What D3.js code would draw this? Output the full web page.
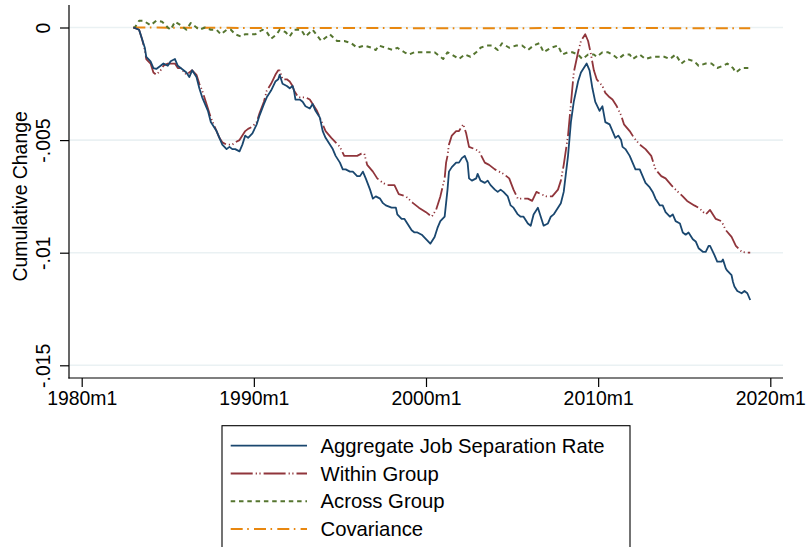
<!DOCTYPE html>
<html>
<head>
<meta charset="utf-8">
<script src="https://cdn.jsdelivr.net/npm/d3@7"></script>
<style>
  html, body { margin: 0; padding: 0; background: #ffffff; }
  svg { display: block; }
  text { font-family: Arial, "Liberation Sans", sans-serif; fill: #000; }
</style>
</head>
<body>
<svg id="chart" width="808" height="547"></svg>
<script>
// ---------------- DATA ----------------
const xTickMonths = ["1980m1", "1990m1", "2000m1", "2010m1", "2020m1"];
const yTickValues = [0, -0.005, -0.01, -0.015];
const yTickLabels = ["0", "-.005", "-.01", "-.015"];
const yTitle = "Cumulative Change";
const seriesNames = ["Aggregate Job Separation Rate", "Within Group", "Across Group", "Covariance"];

const aggregateRate = [
["1983m1",0],["1983m5",-0.0001],["1983m7",-0.0005],["1983m9",-0.0009],["1983m10",-0.0013],["1984m1",-0.0015],["1984m3",-0.0018],["1984m5",-0.00184],["1984m8",-0.0017],["1984m10",-0.0016],["1985m1",-0.0017],["1985m3",-0.0015],["1985m6",-0.0014],["1985m8",-0.0017],["1985m10",-0.0018],["1986m2",-0.002],["1986m4",-0.0022],["1986m6",-0.0019],["1986m9",-0.0022],["1986m11",-0.0027],["1987m1",-0.0031],["1987m5",-0.0037],["1987m7",-0.0042],["1987m11",-0.0046],["1988m1",-0.0049],["1988m3",-0.0052],["1988m6",-0.0054],["1988m8",-0.0053],["1988m10",-0.0054],["1988m12",-0.0054],["1989m3",-0.0055],["1989m5",-0.0052],["1989m7",-0.0048],["1989m9",-0.0049],["1989m12",-0.0047],["1990m3",-0.0043],["1990m5",-0.0039],["1990m8",-0.0034],["1990m10",-0.0031],["1991m1",-0.0028],["1991m4",-0.0024],["1991m6",-0.0023],["1991m7",-0.0021],["1991m9",-0.0025],["1991m12",-0.0026],["1992m2",-0.0027],["1992m4",-0.0026],["1992m5",-0.0028],["1992m6",-0.0032],["1992m9",-0.0032],["1992m11",-0.0033],["1993m1",-0.0035],["1993m4",-0.0036],["1993m6",-0.0034],["1993m8",-0.0037],["1993m11",-0.004],["1994m1",-0.0046],["1994m3",-0.0049],["1994m6",-0.0052],["1994m8",-0.0054],["1994m10",-0.0057],["1995m1",-0.006],["1995m3",-0.0063],["1995m5",-0.0063],["1995m8",-0.0064],["1995m10",-0.0064],["1996m1",-0.0066],["1996m3",-0.0066],["1996m5",-0.0064],["1996m7",-0.0067],["1996m10",-0.0072],["1996m12",-0.0076],["1997m2",-0.0075],["1997m5",-0.0076],["1997m7",-0.0078],["1997m9",-0.0079],["1998m1",-0.008],["1998m4",-0.008],["1998m5",-0.0083],["1998m8",-0.0085],["1998m10",-0.0085],["1998m12",-0.0087],["1999m3",-0.009],["1999m5",-0.0091],["1999m7",-0.0091],["1999m10",-0.0092],["2000m1",-0.0094],["2000m4",-0.0096],["2000m7",-0.0093],["2000m9",-0.0089],["2000m11",-0.0086],["2001m2",-0.0084],["2001m3",-0.0078],["2001m4",-0.0072],["2001m5",-0.0064],["2001m7",-0.0062],["2001m10",-0.006],["2001m12",-0.006],["2002m2",-0.0058],["2002m4",-0.0057],["2002m6",-0.006],["2002m7",-0.0067],["2002m9",-0.0068],["2002m12",-0.0067],["2003m1",-0.0065],["2003m3",-0.0068],["2003m6",-0.0069],["2003m8",-0.0068],["2003m10",-0.007],["2004m1",-0.0072],["2004m3",-0.0073],["2004m5",-0.0072],["2004m7",-0.0073],["2004m10",-0.0075],["2004m12",-0.0079],["2005m2",-0.008],["2005m5",-0.0083],["2005m7",-0.0084],["2005m9",-0.0084],["2005m12",-0.0087],["2006m2",-0.0088],["2006m4",-0.0083],["2006m7",-0.008],["2006m9",-0.0084],["2006m11",-0.0088],["2007m2",-0.0087],["2007m4",-0.0084],["2007m6",-0.0083],["2007m9",-0.008],["2007m11",-0.0078],["2008m1",-0.0073],["2008m4",-0.0057],["2008m6",-0.0042],["2008m8",-0.0033],["2008m11",-0.0024],["2009m1",-0.002],["2009m3",-0.0018],["2009m5",-0.0016],["2009m7",-0.0019],["2009m9",-0.0027],["2009m11",-0.0033],["2010m2",-0.0037],["2010m4",-0.0035],["2010m6",-0.0042],["2010m9",-0.0043],["2010m11",-0.0046],["2011m1",-0.0049],["2011m3",-0.0048],["2011m5",-0.005],["2011m6",-0.0053],["2011m8",-0.0054],["2011m11",-0.0057],["2012m1",-0.006],["2012m3",-0.0063],["2012m6",-0.0063],["2012m8",-0.0066],["2012m10",-0.0069],["2013m1",-0.0071],["2013m3",-0.0073],["2013m5",-0.0076],["2013m8",-0.0079],["2013m10",-0.0079],["2013m12",-0.0082],["2014m3",-0.0084],["2014m5",-0.0083],["2014m7",-0.0086],["2014m10",-0.0087],["2014m12",-0.0091],["2015m2",-0.0092],["2015m4",-0.0091],["2015m7",-0.0094],["2015m9",-0.0095],["2015m11",-0.0098],["2016m2",-0.00996],["2016m4",-0.00996],["2016m6",-0.0097],["2016m7",-0.0097],["2016m10",-0.0101],["2016m12",-0.0104],["2017m3",-0.0104],["2017m4",-0.0103],["2017m6",-0.0107],["2017m7",-0.0108],["2017m10",-0.011],["2017m11",-0.0113],["2017m12",-0.0115],["2018m2",-0.0117],["2018m5",-0.0118],["2018m7",-0.0117],["2018m9",-0.0118],["2018m11",-0.0121]
];

const withinGroup = [
["1983m1",0],["1983m5",-0.0001],["1983m7",-0.0005],["1983m9",-0.001],["1983m10",-0.0014],["1984m1",-0.0016],["1984m3",-0.002],["1984m5",-0.0021],["1984m8",-0.0019],["1984m10",-0.0017],["1985m1",-0.0016],["1985m3",-0.0016],["1985m6",-0.0016],["1985m8",-0.0018],["1985m10",-0.0018],["1986m2",-0.0021],["1986m4",-0.002],["1986m6",-0.0019],["1986m9",-0.0021],["1986m11",-0.0025],["1987m1",-0.0028],["1987m4",-0.0034],["1987m7",-0.004],["1987m11",-0.0046],["1988m1",-0.0049],["1988m3",-0.0051],["1988m6",-0.0052],["1988m8",-0.0052],["1988m10",-0.0052],["1988m12",-0.0051],["1989m3",-0.005],["1989m5",-0.0048],["1989m7",-0.0046],["1989m9",-0.0045],["1989m12",-0.0044],["1990m3",-0.0042],["1990m5",-0.0038],["1990m8",-0.0033],["1990m10",-0.0028],["1991m1",-0.0025],["1991m4",-0.0021],["1991m6",-0.0019],["1991m7",-0.0019],["1991m9",-0.0023],["1991m12",-0.0023],["1992m2",-0.0024],["1992m4",-0.0026],["1992m5",-0.0028],["1992m8",-0.0031],["1992m10",-0.0031],["1993m1",-0.0031],["1993m4",-0.0032],["1993m6",-0.0034],["1993m9",-0.0037],["1994m1",-0.0043],["1994m3",-0.0046],["1994m7",-0.0049],["1994m10",-0.0051],["1995m1",-0.0053],["1995m4",-0.0057],["1995m8",-0.0057],["1996m1",-0.0057],["1996m4",-0.0056],["1996m6",-0.0056],["1996m8",-0.0061],["1996m12",-0.0064],["1997m3",-0.0067],["1997m7",-0.0069],["1997m10",-0.007],["1998m3",-0.007],["1998m6",-0.0074],["1998m11",-0.0075],["1999m4",-0.0078],["1999m8",-0.008],["2000m1",-0.0082],["2000m5",-0.0084],["2000m8",-0.0081],["2000m10",-0.0077],["2000m11",-0.0075],["2001m2",-0.0067],["2001m3",-0.006],["2001m4",-0.0057],["2001m5",-0.0052],["2001m7",-0.0048],["2001m10",-0.0046],["2001m12",-0.0046],["2002m3",-0.0043],["2002m5",-0.0047],["2002m7",-0.0053],["2002m11",-0.0054],["2003m2",-0.0055],["2003m6",-0.006],["2003m9",-0.0061],["2004m1",-0.0063],["2004m4",-0.0064],["2004m7",-0.0065],["2004m11",-0.0067],["2005m2",-0.0072],["2005m5",-0.0076],["2005m8",-0.0076],["2005m12",-0.0076],["2006m3",-0.0077],["2006m6",-0.0073],["2006m9",-0.0074],["2007m1",-0.0075],["2007m5",-0.0075],["2007m9",-0.0072],["2007m11",-0.0068],["2008m1",-0.0061],["2008m4",-0.0048],["2008m6",-0.0034],["2008m8",-0.002],["2008m11",-0.0011],["2009m1",-0.0006],["2009m3",-0.0004],["2009m4",-0.0003],["2009m6",-0.0006],["2009m8",-0.0012],["2009m10",-0.0019],["2009m12",-0.0023],["2010m4",-0.0026],["2010m6",-0.0029],["2010m9",-0.0031],["2010m11",-0.0032],["2011m2",-0.0035],["2011m5",-0.0039],["2011m7",-0.0043],["2011m11",-0.0046],["2012m2",-0.0049],["2012m6",-0.0052],["2012m10",-0.0054],["2013m2",-0.0057],["2013m5",-0.0063],["2013m9",-0.0066],["2013m12",-0.0067],["2014m4",-0.007],["2014m7",-0.0072],["2014m12",-0.0075],["2015m3",-0.0077],["2015m8",-0.0079],["2015m11",-0.008],["2016m4",-0.0083],["2016m7",-0.0081],["2016m11",-0.0085],["2017m3",-0.0086],["2017m6",-0.009],["2017m10",-0.0093],["2018m1",-0.0097],["2018m5",-0.00996],["2018m8",-0.01],["2018m11",-0.01]
];

const acrossGroup = [
["1983m1",0],["1983m2",0],["1983m5",0.0003],["1983m8",0.0003],["1984m1",0.0001],["1984m5",0.0003],["1984m9",0.00026],["1985m1",0],["1985m3",-0.0001],["1985m6",0.00026],["1985m10",0.0001],["1986m2",-0.0001],["1986m5",0.0002],["1986m9",0],["1986m11",-0.0001],["1987m3",0],["1987m7",-0.0001],["1987m11",-0.0001],["1988m2",-0.0003],["1988m6",-0.0001],["1988m9",-0.0001],["1988m12",-0.0003],["1989m4",-0.0004],["1989m7",-0.0003],["1989m11",-0.0003],["1990m2",-0.0003],["1990m7",-0.0001],["1990m10",-0.0002],["1991m1",-0.0005],["1991m5",-0.0003],["1991m7",-0.0001],["1991m11",-0.0002],["1992m2",-0.0004],["1992m5",-0.0001],["1992m10",-0.0001],["1993m1",-0.0004],["1993m6",-0.0001],["1993m12",-0.0006],["1994m6",-0.0003],["1994m11",-0.0006],["1995m4",-0.0006],["1995m9",-0.0007],["1996m1",-0.0009],["1996m6",-0.0008],["1996m11",-0.0009],["1997m2",-0.001],["1997m4",-0.0008],["1997m9",-0.0009],["1998m2",-0.001],["1998m5",-0.0009],["1998m10",-0.0011],["1999m1",-0.0012],["1999m5",-0.0011],["1999m10",-0.0011],["2000m2",-0.0011],["2000m7",-0.0011],["2001m1",-0.0014],["2001m4",-0.0011],["2001m7",-0.0012],["2001m12",-0.0014],["2002m4",-0.0012],["2002m8",-0.0013],["2002m12",-0.0011],["2003m3",-0.0009],["2003m7",-0.0008],["2003m11",-0.0008],["2004m3",-0.001],["2004m6",-0.0007],["2004m11",-0.0009],["2005m4",-0.0008],["2005m8",-0.0008],["2005m12",-0.001],["2006m4",-0.0008],["2006m8",-0.0007],["2006m11",-0.0011],["2007m4",-0.0009],["2007m9",-0.0008],["2007m12",-0.0012],["2008m4",-0.0011],["2008m7",-0.0011],["2008m11",-0.0012],["2009m2",-0.0014],["2009m6",-0.0012],["2009m10",-0.0012],["2009m12",-0.0013],["2010m4",-0.0011],["2010m8",-0.0011],["2010m11",-0.0012],["2011m3",-0.0014],["2011m7",-0.0012],["2011m11",-0.0012],["2012m1",-0.0014],["2012m6",-0.0012],["2012m10",-0.0014],["2013m3",-0.0013],["2013m8",-0.0013],["2013m11",-0.0013],["2014m3",-0.0014],["2014m7",-0.0012],["2014m11",-0.0016],["2015m3",-0.0014],["2015m8",-0.0015],["2015m11",-0.0017],["2016m4",-0.0016],["2016m8",-0.0016],["2016m12",-0.0018],["2017m4",-0.0017],["2017m7",-0.0016],["2017m11",-0.0018],["2018m1",-0.002],["2018m5",-0.0018],["2018m8",-0.0018],["2018m11",-0.0018]
];

const covariance = [
["1983m1",0],["1986m1",-0.00001],["1990m1",-0.00002],["1995m1",-0.00002],["2000m1",-0.00003],["2005m1",-0.00003],["2010m1",-0.00002],["2015m1",-0.00003],["2018m11",-0.00003]
];

// ---------------- CHART ----------------
const W = 808, H = 547;
const svg = d3.select("#chart");
svg.append("rect").attr("width", W).attr("height", H).attr("fill", "#ffffff");

function monthIndex(s) {
  const [y, m] = s.split("m").map(Number);
  return (y - 1980) * 12 + (m - 1);
}

const x = d3.scaleLinear()
  .domain([monthIndex("1980m1"), monthIndex("2020m1")])
  .range([81.7, 770.3]);
const y = d3.scaleLinear()
  .domain([0, -0.015])
  .range([27.5, 365.3]);

const plotLeft = 69, plotRight = 783, plotBottom = 378, plotTop = 5;

// gridlines
svg.append("g").selectAll("line")
  .data(yTickValues)
  .join("line")
  .attr("x1", plotLeft).attr("x2", plotRight)
  .attr("y1", d => y(d)).attr("y2", d => y(d))
  .attr("stroke", "#eaf1f3").attr("stroke-width", 1.6);

// axes lines
svg.append("line").attr("x1", plotLeft).attr("x2", plotLeft)
  .attr("y1", plotTop).attr("y2", plotBottom + 0.6)
  .attr("stroke", "#000").attr("stroke-width", 1.2);
svg.append("line").attr("x1", plotLeft - 0.6).attr("x2", plotRight)
  .attr("y1", plotBottom).attr("y2", plotBottom)
  .attr("stroke", "#000").attr("stroke-width", 1.2);

// x axis
const xAxis = d3.axisBottom(x)
  .tickValues(xTickMonths.map(monthIndex))
  .tickFormat((d, i) => xTickMonths[i])
  .tickSize(9).tickPadding(4);
const gx = svg.append("g").attr("transform", `translate(0,${plotBottom})`).call(xAxis);
gx.select(".domain").remove();
gx.selectAll(".tick line").attr("stroke", "#000").attr("stroke-width", 1.2);
gx.selectAll(".tick text")
  .attr("font-size", "19.4px")
  .attr("font-family", "Arial, 'Liberation Sans', sans-serif")
  .attr("fill", "#000");

// y axis
const yAxis = d3.axisLeft(y)
  .tickValues(yTickValues)
  .tickFormat((d, i) => yTickLabels[i])
  .tickSize(9);
const gy = svg.append("g").attr("transform", `translate(${plotLeft},0)`).call(yAxis);
gy.select(".domain").remove();
gy.selectAll(".tick line").attr("stroke", "#000").attr("stroke-width", 1.2);
gy.selectAll(".tick text")
  .attr("font-size", "19.4px")
  .attr("font-family", "Arial, 'Liberation Sans', sans-serif")
  .attr("fill", "#000")
  .attr("x", null).attr("dy", null)
  .attr("text-anchor", "middle")
  .attr("transform", "translate(-19,0) rotate(-90)");

// y title
svg.append("text")
  .attr("transform", `translate(27,${(y(0) + y(-0.015)) / 2}) rotate(-90)`)
  .attr("text-anchor", "middle")
  .attr("font-size", "19.4px")
  .text(yTitle);

// series
const series = [
  { name: seriesNames[0], data: aggregateRate, color: "#1a476f", width: 1.8, dash: null },
  { name: seriesNames[1], data: withinGroup, color: "#90353b", width: 1.8, dash: "22,3,1.2,2.5,1.2,3" },
  { name: seriesNames[2], data: acrossGroup, color: "#55752f", width: 2, dash: "4.5,3.8" },
  { name: seriesNames[3], data: covariance, color: "#e8870f", width: 2, dash: "12,4.5,1.6,5.2" }
];

const line = d3.line()
  .x(d => x(monthIndex(d[0])))
  .y(d => y(d[1]));

// draw order: covariance, across, within, aggregate on top
[3, 2, 1, 0].forEach(i => {
  const s = series[i];
  svg.append("path")
    .datum(s.data)
    .attr("d", line)
    .attr("fill", "none")
    .attr("stroke", s.color)
    .attr("stroke-width", s.width)
    .attr("stroke-linejoin", "round")
    .attr("stroke-dasharray", s.dash);
});

// legend
const legX = 222, legY = 425.7, legW = 408, rowH = 27.8;
svg.append("rect")
  .attr("x", legX).attr("y", legY)
  .attr("width", legW).attr("height", 140)
  .attr("fill", "#fff").attr("stroke", "#000").attr("stroke-width", 1.1);

const leg = svg.append("g");
series.forEach((s, i) => {
  const cy = 445.7 + i * rowH;
  leg.append("line")
    .attr("x1", 230.7).attr("x2", 307)
    .attr("y1", cy).attr("y2", cy)
    .attr("stroke", s.color)
    .attr("stroke-width", s.width)
    .attr("stroke-dasharray", s.dash);
  leg.append("text")
    .attr("x", 320.5).attr("y", cy + 7)
    .attr("font-size", "20.3px")
    .text(s.name);
});
</script>
</body>
</html>
